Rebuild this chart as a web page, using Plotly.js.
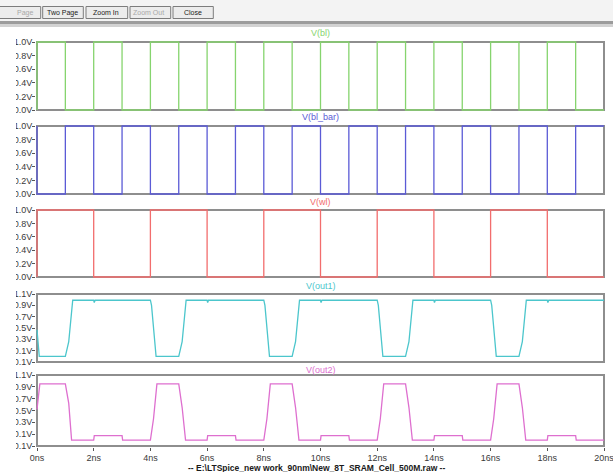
<!DOCTYPE html>
<html>
<head>
<meta charset="utf-8">
<script src="https://cdn.plot.ly/plotly-3.0.1.min.js"></script>
<style>
  html, body { margin: 0; padding: 0; background: #ffffff; overflow: hidden; }
  #wrap { position: relative; width: 613px; height: 472px; }
  #chart { position: absolute; left: 0; top: 0; width: 613px; height: 472px; }
  #mask { position: absolute; left: 0; top: 28px; width: 16px; height: 444px; background: #ffffff; }
</style>
</head>
<body>
<div id="wrap">
  <div id="chart"></div>
  <div id="mask"></div>
</div>
<script>
// ---------------- data (time in ns, voltage in V) ----------------
const panelNames = ['V(bl)', 'V(bl_bar)', 'V(wl)', 'V(out1)', 'V(out2)'];

const blT  = [0, 0, 1, 2, 3, 4, 5, 6, 7, 8, 9, 10, 11, 12, 13, 14, 15, 16, 17, 18, 19, 20];
const blV  = [0, 1, 0, 1, 0, 1, 0, 1, 0, 1, 0, 1, 0, 1, 0, 1, 0, 1, 0, 1, 0, 0];

const blbT = [0, 0, 1, 2, 3, 4, 5, 6, 7, 8, 9, 10, 11, 12, 13, 14, 15, 16, 17, 18, 19, 20];
const blbV = [1, 0, 1, 0, 1, 0, 1, 0, 1, 0, 1, 0, 1, 0, 1, 0, 1, 0, 1, 0, 1, 1];

const wlT  = [0, 0, 2, 4, 6, 8, 10, 12, 14, 16, 18, 20];
const wlV  = [0, 1, 0, 1, 0, 1, 0, 1, 0, 1, 0, 0];

const out1T = [0, 0.08, 1.0, 1.12, 1.26, 2.0, 2.02, 2.05, 4.0, 4.04, 4.2,
               5.0, 5.12, 5.26, 6.0, 6.02, 6.05, 8.0, 8.04, 8.2,
               9.0, 9.12, 9.26, 10.0, 10.02, 10.05, 12.0, 12.04, 12.2,
               13.0, 13.12, 13.26, 14.0, 14.02, 14.05, 16.0, 16.04, 16.2,
               17.0, 17.12, 17.26, 18.0, 18.02, 18.05, 20];
const out1V = [0.47, 0.0, 0.0, 0.26, 0.99, 0.99, 0.95, 0.99, 0.99, 0.9, 0.0,
               0.0, 0.26, 0.99, 0.99, 0.95, 0.99, 0.99, 0.9, 0.0,
               0.0, 0.26, 0.99, 0.99, 0.95, 0.99, 0.99, 0.9, 0.0,
               0.0, 0.26, 0.99, 0.99, 0.95, 0.99, 0.99, 0.9, 0.0,
               0.0, 0.26, 0.99, 0.99, 0.95, 0.99, 0.99];

const out2T = [0, 0.1, 1.0, 1.12, 1.22, 2.0, 2.02, 3.0, 3.02, 4.0, 4.11, 4.23,
               5.0, 5.12, 5.24, 6.0, 6.02, 7.0, 7.02, 8.0, 8.11, 8.23,
               9.0, 9.12, 9.24, 10.0, 10.02, 11.0, 11.02, 12.0, 12.11, 12.23,
               13.0, 13.12, 13.24, 14.0, 14.02, 15.0, 15.02, 16.0, 16.11, 16.23,
               17.0, 17.12, 17.24, 18.0, 18.02, 19.0, 19.02, 20];
const out2V = [0.52, 0.95, 0.95, 0.62, 0.0, 0.0, 0.075, 0.075, 0.0, 0.0, 0.36, 0.95,
               0.95, 0.55, 0.0, 0.0, 0.075, 0.075, 0.0, 0.0, 0.36, 0.95,
               0.95, 0.55, 0.0, 0.0, 0.075, 0.075, 0.0, 0.0, 0.36, 0.95,
               0.95, 0.55, 0.0, 0.0, 0.075, 0.075, 0.0, 0.0, 0.36, 0.95,
               0.95, 0.55, 0.0, 0.0, 0.075, 0.075, 0.0, 0.0];

const xTickVals = [0, 2, 4, 6, 8, 10, 12, 14, 16, 18, 20];
const xTickText = ['0ns', '2ns', '4ns', '6ns', '8ns', '10ns', '12ns', '14ns', '16ns', '18ns', '20ns'];
const yTicksA = [0, 0.2, 0.4, 0.6, 0.8, 1.0];
const yTextA  = ['0.0V', '0.2V', '0.4V', '0.6V', '0.8V', '1.0V'];
const yTicksB = [-0.1, 0.1, 0.3, 0.5, 0.7, 0.9, 1.1];
const yTextB  = ['-0.1V', '0.1V', '0.3V', '0.5V', '0.7V', '0.9V', '1.1V'];

const toolbarLabels = ['Page', 'Two Page', 'Zoom In', 'Zoom Out', 'Close'];
const toolbarEnabled = [false, true, true, false, true];
const footerText = '-- E:\\LTSpice_new work_90nm\\New_8T_SRAM_Cell_500M.raw --';

// ---------------- styling / geometry ----------------
const W = 613, H = 472;
const L = 36, R = 605;                 // plot area (page px)
const PW = R - L;
const colors = ['#86d46e', '#5b5bd6', '#f26d6d', '#4cc6cc', '#de6fcf'];
const boxTop = [42, 126, 210, 294, 375];
const boxBot = [110, 194, 277, 362, 446];
const vRange = [[0, 1], [0, 1], [0, 1], [-0.1, 1.1], [-0.1, 1.1]];
const titleY = [33, 117, 201.5, 285.5, 370];
const FONT = 'Liberation Sans, Arial, sans-serif';

const px2x = p => (p - L) / PW;
const py2y = p => (H - p) / H;

const series = [[blT, blV, 'hv'], [blbT, blbV, 'hv'], [wlT, wlV, 'hv'], [out1T, out1V, 'linear'], [out2T, out2V, 'linear']];

const xPad = 20 / (PW - 2);
const traces = [];
const layout = {
  width: W, height: H,
  margin: {l: L, r: W - R, t: 0, b: 0, pad: 0},
  paper_bgcolor: '#ffffff', plot_bgcolor: 'rgba(0,0,0,0)',
  showlegend: false,
  font: {family: FONT, size: 9, color: '#3a3a3a'},
  shapes: [], annotations: []
};

for (let i = 0; i < 5; i++) {
  const sfx = i === 0 ? '' : String(i + 1);
  const T = boxTop[i], B = boxBot[i];
  const v0 = vRange[i][0], v1 = vRange[i][1];
  const d = (v1 - v0) / (B - T);
  traces.push({
    x: series[i][0], y: series[i][1], type: 'scatter', mode: 'lines',
    line: {color: colors[i], width: 1.3, shape: series[i][2]},
    xaxis: 'x' + sfx, yaxis: 'y' + sfx, hoverinfo: 'skip'
  });
  const isLast = i === 4;
  layout['xaxis' + sfx] = {
    domain: [0, 1], anchor: 'y' + sfx, range: [-xPad, 20 + xPad],
    showgrid: false, zeroline: false, showline: false,
    tickmode: 'array', tickvals: xTickVals, ticktext: xTickText,
    ticks: isLast ? 'outside' : '', ticklen: 3, tickcolor: '#555', tickwidth: 1,
    ticklabeloverflow: 'allow', ticklabelstandoff: -1,
    showticklabels: isLast, tickfont: {size: 9, color: '#3a3a3a', family: FONT}
  };
  layout['yaxis' + sfx] = {
    domain: [py2y(B + 1), py2y(T - 1)], anchor: 'x' + sfx,
    range: [v0 - d, v1 + d],
    showgrid: false, zeroline: false, showline: false,
    tickmode: 'array', tickvals: i < 3 ? yTicksA : yTicksB, ticktext: i < 3 ? yTextA : yTextB,
    ticks: 'outside', ticklen: 3, tickcolor: '#555', tickwidth: 1,
    ticklabeloverflow: 'allow', ticklabelstandoff: -2,
    tickfont: {size: 9, color: '#3a3a3a', family: FONT}
  };
  layout.shapes.push({
    type: 'rect', xref: 'x' + sfx, yref: 'y' + sfx, x0: 0, x1: 20, y0: v0, y1: v1,
    line: {color: '#8e8e8e', width: 2}, fillcolor: 'rgba(0,0,0,0)', layer: 'below'
  });
  layout.annotations.push({
    xref: 'paper', yref: 'paper', x: px2x(320.5), y: py2y(titleY[i]),
    xanchor: 'center', yanchor: 'middle', showarrow: false,
    text: panelNames[i], font: {size: 9, color: colors[i], family: FONT}
  });
}

// toolbar background + separator band
layout.shapes.push({type: 'rect', xref: 'paper', yref: 'paper', x0: px2x(0), x1: px2x(W), y0: py2y(21), y1: py2y(0),
  line: {width: 0}, fillcolor: '#f3f3f3', layer: 'above'});
layout.shapes.push({type: 'rect', xref: 'paper', yref: 'paper', x0: px2x(0), x1: px2x(W), y0: py2y(24), y1: py2y(21),
  line: {width: 0}, fillcolor: '#9c9c9c', layer: 'above'});
layout.shapes.push({type: 'rect', xref: 'paper', yref: 'paper', x0: px2x(0), x1: px2x(W), y0: py2y(27), y1: py2y(24),
  line: {width: 0}, fillcolor: '#d2d2d2', layer: 'above'});

// toolbar buttons
const btnL = [-6, 42.7, 86, 130, 173];
const btnR = [40.7, 83.3, 127.7, 170.7, 213.3];
const lblX = [24.5, 62.7, 106.2, 148, 192.7];
for (let k = 0; k < toolbarLabels.length; k++) {
  layout.shapes.push({type: 'rect', xref: 'paper', yref: 'paper',
    x0: px2x(btnL[k]), x1: px2x(btnR[k]), y0: py2y(18.5), y1: py2y(6.5),
    line: {color: '#7c7c7c', width: 1}, fillcolor: '#ececec', layer: 'above'});
  layout.annotations.push({xref: 'paper', yref: 'paper', x: px2x(lblX[k]), y: py2y(12.6),
    xanchor: 'center', yanchor: 'middle', showarrow: false, text: toolbarLabels[k],
    font: {size: 7, family: FONT, color: toolbarEnabled[k] ? '#1a1a1a' : '#a8a8a8'}});
}

// footer file name
layout.annotations.push({xref: 'paper', yref: 'paper', x: px2x(316.5), y: py2y(468),
  xanchor: 'center', yanchor: 'middle', showarrow: false,
  text: '<b>' + footerText + '</b>', font: {size: 8.5, family: FONT, color: '#1a1a1a'}});

Plotly.newPlot('chart', traces, layout, {staticPlot: true, displayModeBar: false});
</script>
</body>
</html>
